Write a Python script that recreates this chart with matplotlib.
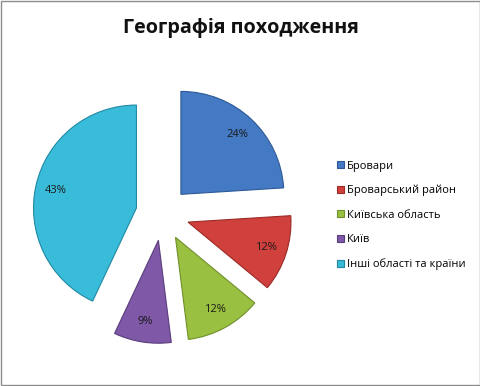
import matplotlib.pyplot as plt
from matplotlib.patches import Rectangle

plt.rcParams['font.family'] = ['Open Sans', 'DejaVu Sans']

# data
labels = ['Бровари', 'Броварський район', 'Київська область', 'Київ',
          'Інші області та країни']
shares = [24, 12, 12, 9, 43]
colors = ['#4479c4', '#d0403c', '#99c040', '#7f58a8', '#38bcd9']
edges = ['#2d5a96', '#9a2b28', '#6f8f2a', '#5a3d7c', '#2189a3']

fig = plt.figure(figsize=(4.81, 3.86), dpi=100)

# chart area border
fig.patches.append(Rectangle((0.002, 0.003), 0.995, 0.994, transform=fig.transFigure,
                             fill=False, edgecolor='#8c8c8c', linewidth=1))

ax = fig.add_axes([0.049, 0.086, 0.578, 0.720])
wedges, texts, autotexts = ax.pie(
    shares, colors=colors, startangle=90, counterclock=False,
    explode=[0.26] * len(shares), autopct='%d%%', pctdistance=0.8,
    wedgeprops=dict(linewidth=0.8), textprops=dict(fontsize=8, color='#1a1a1a'))
for w, ec in zip(wedges, edges):
    w.set_edgecolor(ec)
ax.set_xlim(-1.35, 1.35)
ax.set_ylim(-1.35, 1.35)
ax.set_aspect('equal')
ax.axis('off')

fig.text(0.5, 0.928, 'Географія походження', ha='center', va='center',
         fontsize=14.2, fontweight='bold', color='#111111')

leg = fig.legend(wedges, labels, loc='center left', bbox_to_anchor=(0.68, 0.442),
                 frameon=False, fontsize=8, handlelength=0.6, handleheight=0.6,
                 handletextpad=0.3, labelspacing=1.2)

fig.savefig('out.png', dpi=100)
